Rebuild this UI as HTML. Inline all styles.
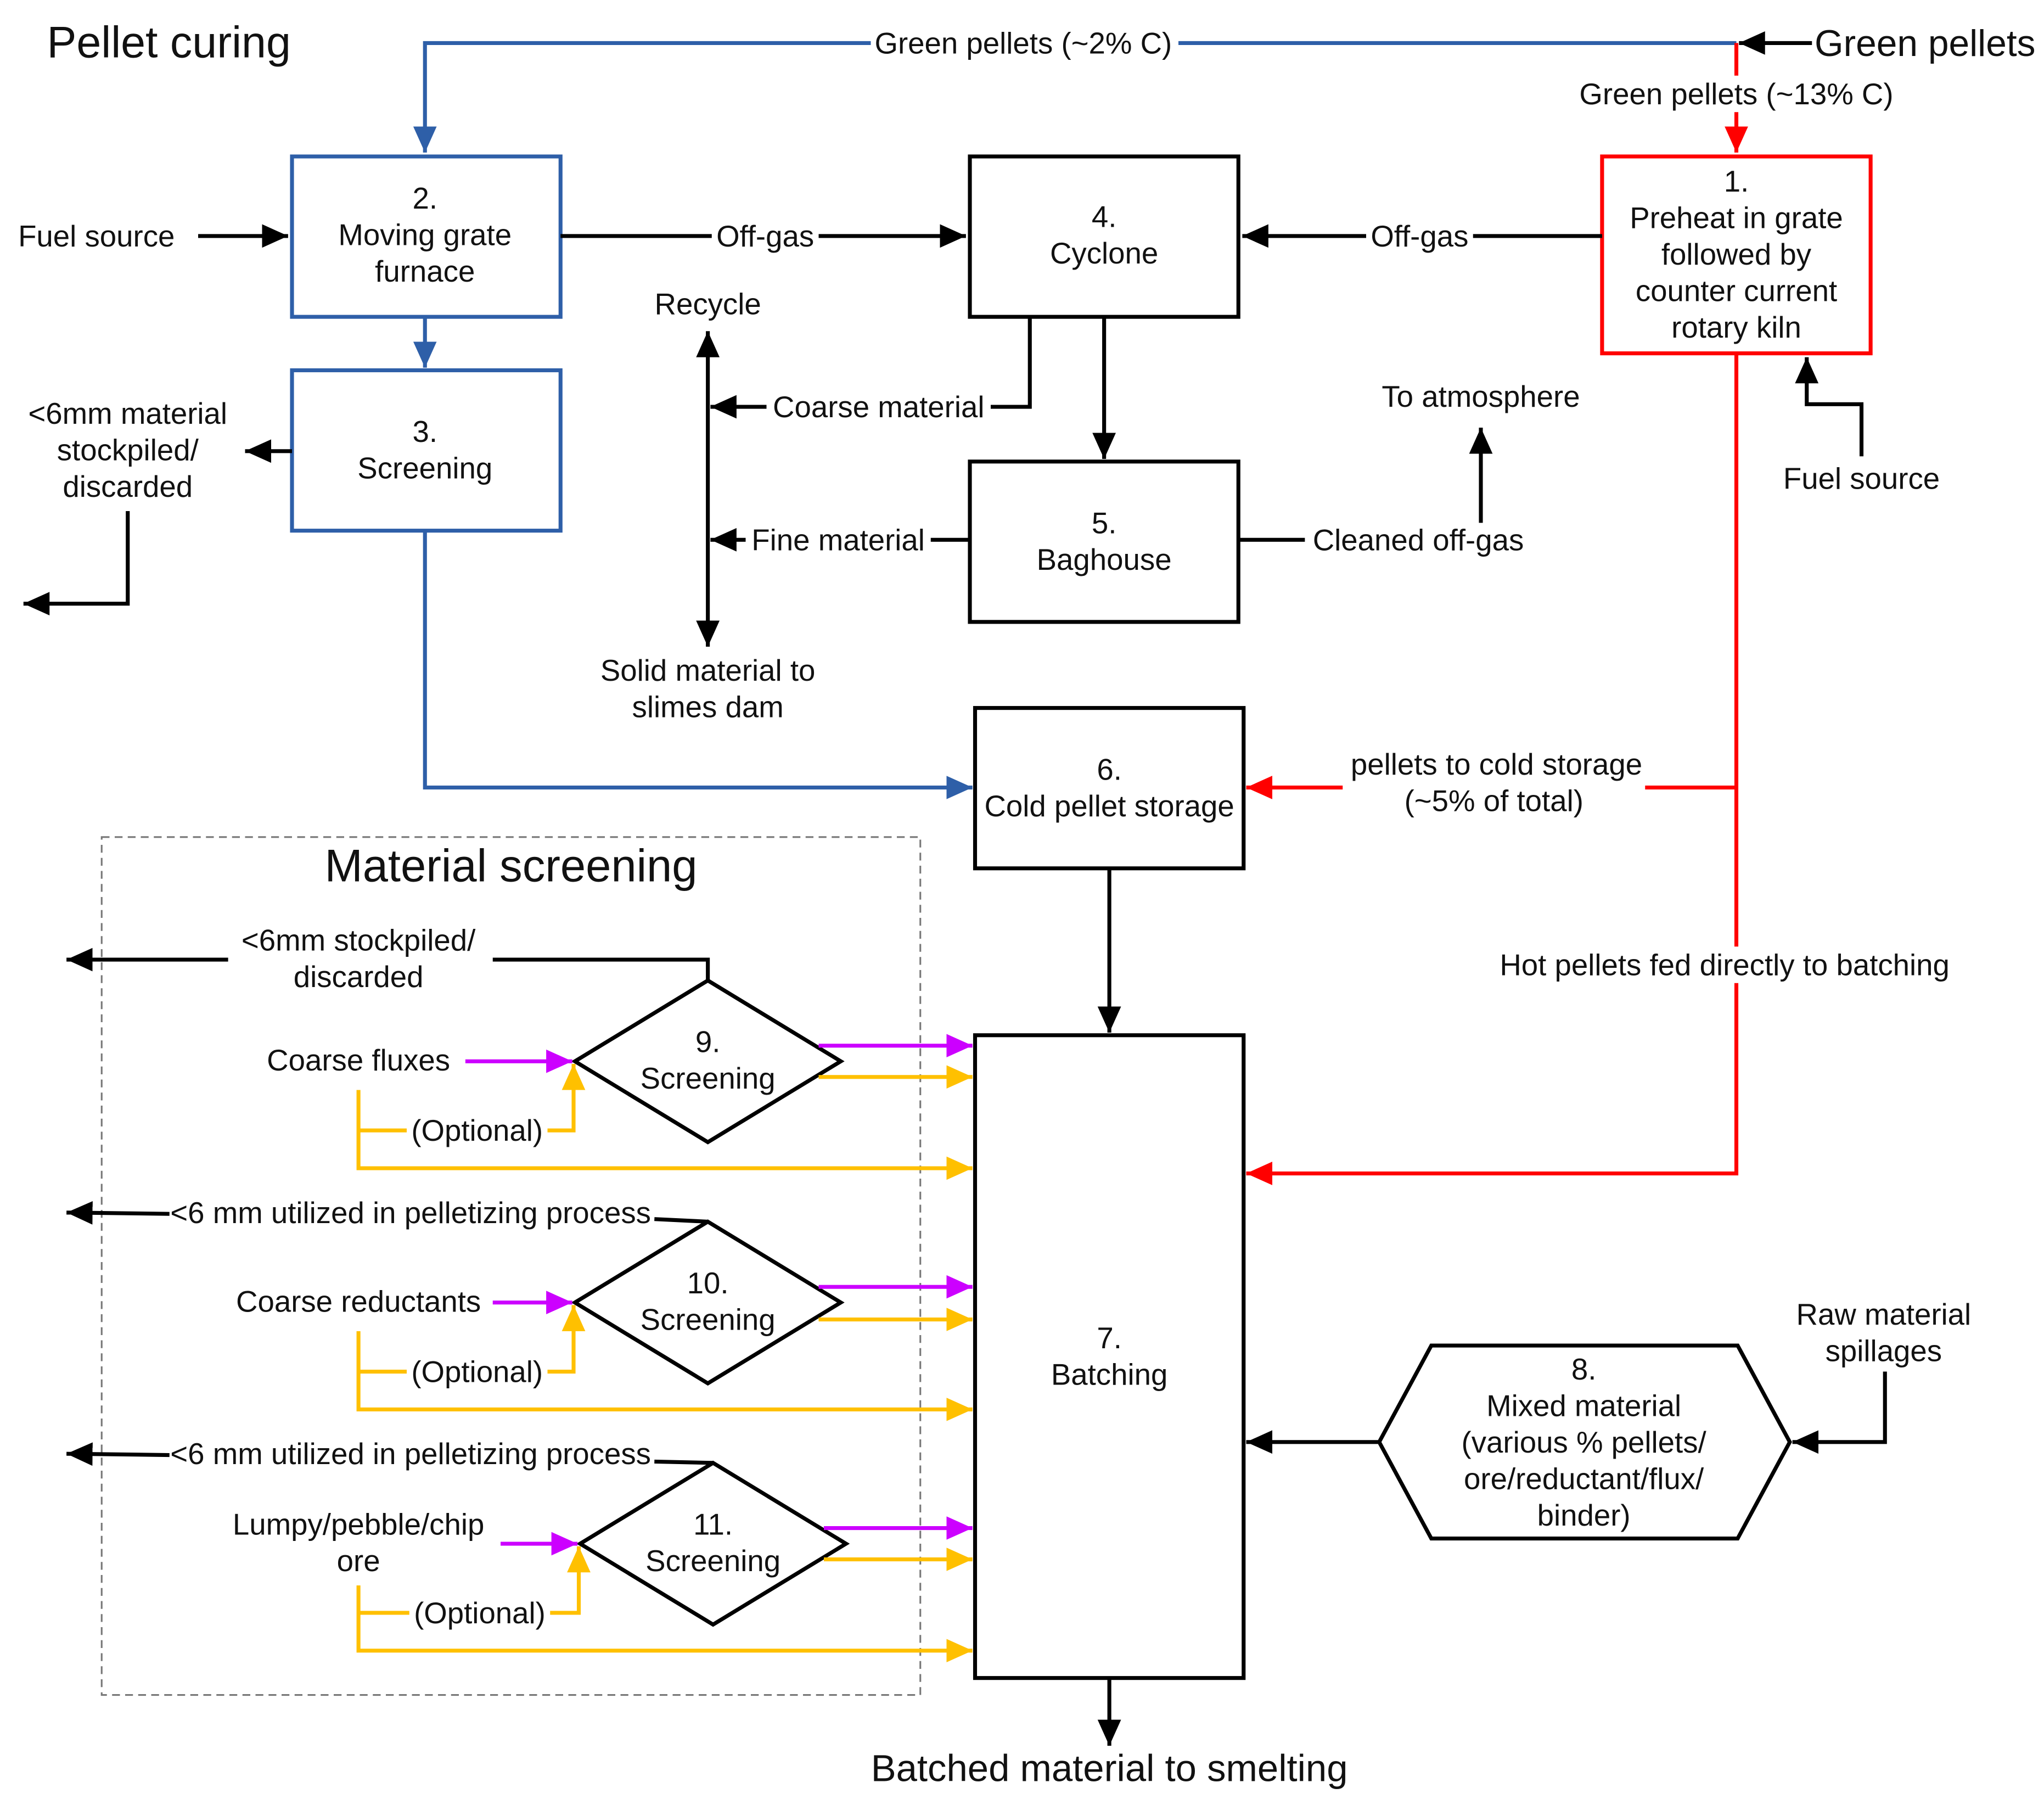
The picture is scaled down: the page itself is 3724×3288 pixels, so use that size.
<!DOCTYPE html>
<html><head><meta charset="utf-8"><style>
html,body{margin:0;padding:0;background:#fff;}
svg{display:block;}
text{font-family:"Liberation Sans",Arial,sans-serif;font-size:23px;fill:#111;text-anchor:middle;}
</style></head><body>
<svg width="3724" height="3288" viewBox="0 0 1568 1384.4" preserveAspectRatio="none" xmlns="http://www.w3.org/2000/svg">
<defs>
<marker id="ak" markerUnits="userSpaceOnUse" markerWidth="22" markerHeight="20" refX="20" refY="10" orient="auto"><path d="M0,1 L20,10 L0,19 Z" fill="#000"/></marker>
<marker id="ab" markerUnits="userSpaceOnUse" markerWidth="22" markerHeight="20" refX="20" refY="10" orient="auto"><path d="M0,1 L20,10 L0,19 Z" fill="#2e5fa8"/></marker>
<marker id="ar" markerUnits="userSpaceOnUse" markerWidth="22" markerHeight="20" refX="20" refY="10" orient="auto"><path d="M0,1 L20,10 L0,19 Z" fill="#ff0000"/></marker>
<marker id="am" markerUnits="userSpaceOnUse" markerWidth="22" markerHeight="20" refX="20" refY="10" orient="auto"><path d="M0,1 L20,10 L0,19 Z" fill="#cc00ff"/></marker>
<marker id="ay" markerUnits="userSpaceOnUse" markerWidth="22" markerHeight="20" refX="20" refY="10" orient="auto"><path d="M0,1 L20,10 L0,19 Z" fill="#ffc000"/></marker>
</defs>
<g fill="none" stroke-width="3">
<polyline points="1332,33 326,33 326,117" stroke="#2e5fa8" marker-end="url(#ab)"/>
<line x1="1390" y1="33" x2="1334" y2="33" stroke="#000" marker-end="url(#ak)"/>
<line x1="1332" y1="33" x2="1332" y2="117" stroke="#ff0000" marker-end="url(#ar)"/>
<rect x="224" y="120" width="206" height="123" stroke="#2e5fa8"/>
<rect x="224" y="284" width="206" height="123" stroke="#2e5fa8"/>
<rect x="744" y="120" width="206" height="123" stroke="#000"/>
<rect x="744" y="354" width="206" height="123" stroke="#000"/>
<rect x="1229" y="120" width="206" height="151" stroke="#ff0000"/>
<rect x="748" y="543" width="206" height="123" stroke="#000"/>
<rect x="748" y="794" width="206" height="493" stroke="#000"/>
<polygon points="1058,1106 1098,1032 1333,1032 1373,1106 1333,1180 1098,1180" stroke="#000"/>
<polygon points="441,814 543,752 645,814 543,876" stroke="#000"/>
<polygon points="441,999 543,937 645,999 543,1061" stroke="#000"/>
<polygon points="445,1184 547,1122 649,1184 547,1246" stroke="#000"/>
<rect x="78" y="642" width="628" height="658" stroke="#777" stroke-width="1.3" stroke-dasharray="6,4"/>
<line x1="152" y1="181" x2="221" y2="181" stroke="#000" marker-end="url(#ak)"/>
<line x1="430" y1="181" x2="741" y2="181" stroke="#000" marker-end="url(#ak)"/>
<line x1="1229" y1="181" x2="953" y2="181" stroke="#000" marker-end="url(#ak)"/>
<polyline points="1428,350 1428,310 1386,310 1386,274" stroke="#000" marker-end="url(#ak)"/>
<line x1="326" y1="243" x2="326" y2="282" stroke="#2e5fa8" marker-end="url(#ab)"/>
<line x1="224" y1="346" x2="188" y2="346" stroke="#000" marker-end="url(#ak)"/>
<polyline points="98,392 98,463 18,463" stroke="#000" marker-end="url(#ak)"/>
<line x1="543" y1="380" x2="543" y2="254" stroke="#000" marker-end="url(#ak)"/>
<line x1="543" y1="380" x2="543" y2="496" stroke="#000" marker-end="url(#ak)"/>
<polyline points="790,243 790,312 545,312" stroke="#000" marker-end="url(#ak)"/>
<line x1="847" y1="243" x2="847" y2="352" stroke="#000" marker-end="url(#ak)"/>
<line x1="744" y1="414" x2="545" y2="414" stroke="#000" marker-end="url(#ak)"/>
<polyline points="950,414 1136,414 1136,328" stroke="#000" marker-end="url(#ak)"/>
<polyline points="326,407 326,604 746,604" stroke="#2e5fa8" marker-end="url(#ab)"/>
<line x1="851" y1="666" x2="851" y2="792" stroke="#000" marker-end="url(#ak)"/>
<line x1="851" y1="1287" x2="851" y2="1339" stroke="#000" marker-end="url(#ak)"/>
<line x1="1058" y1="1106" x2="956" y2="1106" stroke="#000" marker-end="url(#ak)"/>
<polyline points="1446,1052 1446,1106 1375,1106" stroke="#000" marker-end="url(#ak)"/>
<polyline points="1332,271 1332,900 956,900" stroke="#ff0000" marker-end="url(#ar)"/>
<line x1="1332" y1="604" x2="1262" y2="604" stroke="#ff0000"/>
<line x1="1030" y1="604" x2="956" y2="604" stroke="#ff0000" marker-end="url(#ar)"/>
<polyline points="543,752 543,736 378,736" stroke="#000"/>
<line x1="175" y1="736" x2="51" y2="736" stroke="#000" marker-end="url(#ak)"/>
<polyline points="543,937 502,935" stroke="#000"/>
<line x1="130" y1="931" x2="51" y2="930" stroke="#000" marker-end="url(#ak)"/>
<polyline points="547,1122 502,1121" stroke="#000"/>
<line x1="130" y1="1116" x2="51" y2="1115" stroke="#000" marker-end="url(#ak)"/>
<line x1="357" y1="814" x2="439" y2="814" stroke="#cc00ff" marker-end="url(#am)"/>
<line x1="378" y1="999" x2="439" y2="999" stroke="#cc00ff" marker-end="url(#am)"/>
<line x1="384" y1="1184" x2="443" y2="1184" stroke="#cc00ff" marker-end="url(#am)"/>
<polyline points="275,836 275,896 746,896" stroke="#ffc000" marker-end="url(#ay)"/>
<polyline points="275,1021 275,1081 746,1081" stroke="#ffc000" marker-end="url(#ay)"/>
<polyline points="275,1216 275,1266 746,1266" stroke="#ffc000" marker-end="url(#ay)"/>
<line x1="275" y1="867" x2="315" y2="867" stroke="#ffc000"/>
<polyline points="416,867 440,867 440,816" stroke="#ffc000" marker-end="url(#ay)"/>
<line x1="275" y1="1052" x2="315" y2="1052" stroke="#ffc000"/>
<polyline points="416,1052 440,1052 440,1001" stroke="#ffc000" marker-end="url(#ay)"/>
<line x1="275" y1="1237" x2="317" y2="1237" stroke="#ffc000"/>
<polyline points="418,1237 444,1237 444,1186" stroke="#ffc000" marker-end="url(#ay)"/>
<line x1="628" y1="802" x2="746" y2="802" stroke="#cc00ff" marker-end="url(#am)"/>
<line x1="628" y1="826" x2="746" y2="826" stroke="#ffc000" marker-end="url(#ay)"/>
<line x1="628" y1="987" x2="746" y2="987" stroke="#cc00ff" marker-end="url(#am)"/>
<line x1="628" y1="1012" x2="746" y2="1012" stroke="#ffc000" marker-end="url(#ay)"/>
<line x1="632" y1="1172" x2="746" y2="1172" stroke="#cc00ff" marker-end="url(#am)"/>
<line x1="632" y1="1196" x2="746" y2="1196" stroke="#ffc000" marker-end="url(#ay)"/>
</g>
<g fill="#fff">
<rect x="668" y="20" width="236" height="26"/>
<rect x="1205" y="58" width="254" height="28"/>
<rect x="546" y="168" width="82" height="26"/>
<rect x="1048" y="168" width="82" height="26"/>
<rect x="588" y="299" width="172" height="26"/>
<rect x="572" y="401" width="142" height="26"/>
<rect x="1001" y="401" width="174" height="26"/>
<rect x="1143" y="726" width="360" height="28"/>
<rect x="312" y="853" width="108" height="28"/>
<rect x="312" y="1038" width="108" height="28"/>
<rect x="314" y="1223" width="108" height="28"/>
</g>
<text x="36" y="44" style="font-size:34px;text-anchor:start">Pellet curing</text>
<text x="785" y="41">Green pellets (~2% C)</text>
<text x="1392" y="43" style="font-size:28.5px;text-anchor:start">Green pellets</text>
<text x="1332" y="80">Green pellets (~13% C)</text>
<text x="326" y="160">2.</text><text x="326" y="188">Moving grate</text><text x="326" y="216">furnace</text>
<text x="74" y="189">Fuel source</text>
<text x="587" y="189">Off-gas</text>
<text x="847" y="174">4.</text><text x="847" y="202">Cyclone</text>
<text x="1089" y="189">Off-gas</text>
<text x="1332" y="147">1.</text><text x="1332" y="175">Preheat in grate</text><text x="1332" y="203">followed by</text><text x="1332" y="231">counter current</text><text x="1332" y="259">rotary kiln</text>
<text x="1428" y="375">Fuel source</text>
<text x="326" y="339">3.</text><text x="326" y="367">Screening</text>
<text x="98" y="325">&lt;6mm material</text><text x="98" y="353">stockpiled/</text><text x="98" y="381">discarded</text>
<text x="543" y="241">Recycle</text>
<text x="674" y="320">Coarse material</text>
<text x="643" y="422">Fine material</text>
<text x="543" y="522">Solid material to</text><text x="543" y="550">slimes dam</text>
<text x="847" y="409">5.</text><text x="847" y="437">Baghouse</text>
<text x="1088" y="422">Cleaned off-gas</text>
<text x="1136" y="312">To atmosphere</text>
<text x="851" y="598">6.</text><text x="851" y="626">Cold pellet storage</text>
<text x="1148" y="594">pellets to cold storage</text><text x="1146" y="622">(~5% of total)</text>
<text x="1323" y="748">Hot pellets fed directly to batching</text>
<text x="392" y="676" style="font-size:35px">Material screening</text>
<text x="275" y="729">&lt;6mm stockpiled/</text><text x="275" y="757">discarded</text>
<text x="543" y="807">9.</text><text x="543" y="835">Screening</text>
<text x="275" y="821">Coarse fluxes</text>
<text x="366" y="875">(Optional)</text>
<text x="315" y="938">&lt;6 mm utilized in pelletizing process</text>
<text x="543" y="992">10.</text><text x="543" y="1020">Screening</text>
<text x="275" y="1006">Coarse reductants</text>
<text x="366" y="1060">(Optional)</text>
<text x="315" y="1123">&lt;6 mm utilized in pelletizing process</text>
<text x="547" y="1177">11.</text><text x="547" y="1205">Screening</text>
<text x="275" y="1177">Lumpy/pebble/chip</text><text x="275" y="1205">ore</text>
<text x="368" y="1245">(Optional)</text>
<text x="851" y="1034">7.</text><text x="851" y="1062">Batching</text>
<text x="1215" y="1058">8.</text><text x="1215" y="1086">Mixed material</text><text x="1215" y="1114">(various % pellets/</text><text x="1215" y="1142">ore/reductant/flux/</text><text x="1215" y="1170">binder)</text>
<text x="1445" y="1016">Raw material</text><text x="1445" y="1044">spillages</text>
<text x="851" y="1366" style="font-size:29px">Batched material to smelting</text>
</svg>
</body></html>
